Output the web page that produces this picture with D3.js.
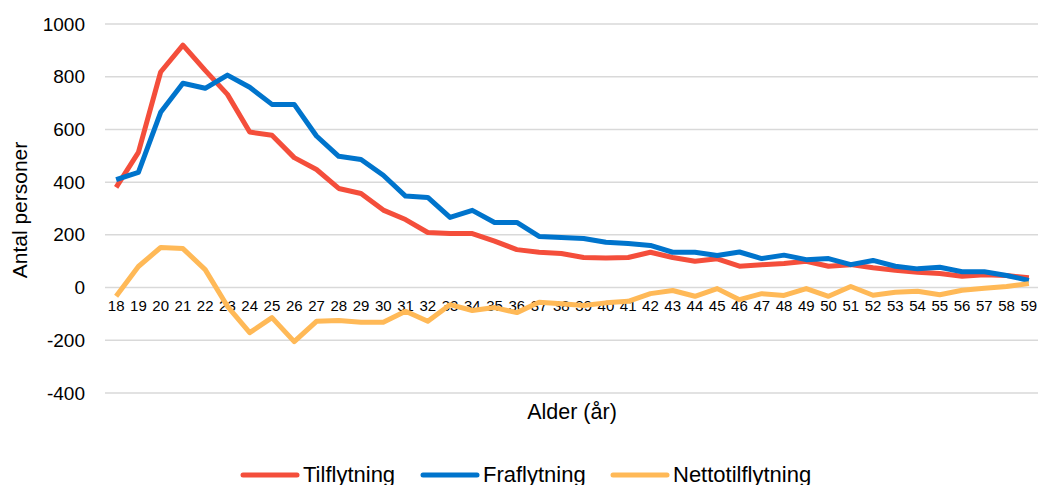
<!DOCTYPE html>
<html>
<head>
<meta charset="utf-8">
<script src="https://cdn.jsdelivr.net/npm/d3@7"></script>
<style>
  body { margin: 0; background: #fff; overflow: hidden; }
  text { font-family: "Liberation Sans", Arial, sans-serif; fill: #000; }
</style>
</head>
<body>
<div id="chart"></div>
<script>
// ages 18..59
const ages = d3.range(18, 60).map(String);

const tilflytning = [380, 513, 818, 920, 824, 733, 590, 578, 493, 448, 376, 357, 294, 258, 209, 205,
  205, 176, 144, 134, 129, 114, 112, 114, 134, 114, 100, 109, 81, 87, 91, 100, 81, 87, 75, 66,
  58, 53, 43, 49, 46, 37];
const fraflytning = [410, 437, 665, 775, 756, 806, 760, 695, 695, 575, 498, 486, 426, 347, 342, 266,
  293, 247, 247, 194, 190, 186, 172, 167, 160, 134, 134, 122, 135, 110, 123, 106, 110, 87, 103, 81,
  71, 77, 60, 60, 46, 27];
const netto = [-33, 80, 152, 148, 68, -71, -171, -114, -205, -128, -125, -132, -132, -90, -128, -65,
  -87, -76, -95, -56, -61, -68, -58, -52, -23, -11, -33, -4, -46, -23, -30, -4, -33, 4, -29, -18,
  -14, -27, -10, -3, 4, 15];

const seriesNames = ["Tilflytning", "Fraflytning", "Nettotilflytning"];
const seriesColors = ["#f44e3b", "#0074cc", "#ffb957"];
const yTicks = [-400, -200, 0, 200, 400, 600, 800, 1000];

const W = 1038, H = 485;
const svg = d3.select("#chart").append("svg")
    .attr("width", W).attr("height", H);

const x = d3.scaleBand().domain(ages).range([105, 1040]);
const y = d3.scaleLinear().domain([-400, 1000]).range([393, 24]);

// gridlines
svg.append("g")
    .selectAll("line")
    .data(yTicks)
    .join("line")
    .attr("x1", 105).attr("x2", 1040)
    .attr("y1", d => y(d)).attr("y2", d => y(d))
    .attr("stroke", "#d9d9d9")
    .attr("stroke-width", 1.5);

// y axis labels (plain numbers, ascii minus)
const yAxis = svg.append("g")
    .attr("transform", "translate(90,0)")
    .call(d3.axisLeft(y).tickValues(yTicks).tickSize(0).tickPadding(5)
        .tickFormat(d => String(d)));
yAxis.select(".domain").remove();
yAxis.selectAll("text")
    .style("font-size", "19px")
    .attr("font-family", null);

// x axis labels, sitting under the zero line
const xAxis = svg.append("g")
    .attr("transform", `translate(0,${y(0)})`)
    .call(d3.axisBottom(x).tickSize(0).tickPadding(13));
xAxis.select(".domain").remove();
xAxis.selectAll("text")
    .style("font-size", "15px")
    .attr("font-family", null);

// lines
const line = d3.line()
    .x((d, i) => x(ages[i]) + x.bandwidth() / 2)
    .y(d => y(d));

[tilflytning, fraflytning, netto].forEach((vals, i) => {
  svg.append("path")
      .datum(vals)
      .attr("fill", "none")
      .attr("stroke", seriesColors[i])
      .attr("stroke-width", 5)
      .attr("stroke-linejoin", "round")
      .attr("d", line);
});

// axis titles
svg.append("text")
    .attr("transform", "translate(27,210) rotate(-90)")
    .attr("text-anchor", "middle")
    .style("font-size", "21px")
    .text("Antal personer");

svg.append("text")
    .attr("x", 572).attr("y", 419)
    .attr("text-anchor", "middle")
    .style("font-size", "21.5px")
    .text("Alder (år)");

// legend
const legendX = [243, 423, 613];
const legend = svg.selectAll(".legend")
    .data(seriesNames)
    .join("g")
    .attr("class", "legend")
    .attr("transform", (d, i) => `translate(${legendX[i]},475)`);

legend.append("line")
    .attr("x1", 0).attr("x2", 54)
    .attr("stroke", (d, i) => seriesColors[i])
    .attr("stroke-width", 5)
    .attr("stroke-linecap", "round");

legend.append("text")
    .attr("x", 60).attr("y", 7)
    .style("font-size", "22px")
    .text(d => d);
</script>
</body>
</html>
